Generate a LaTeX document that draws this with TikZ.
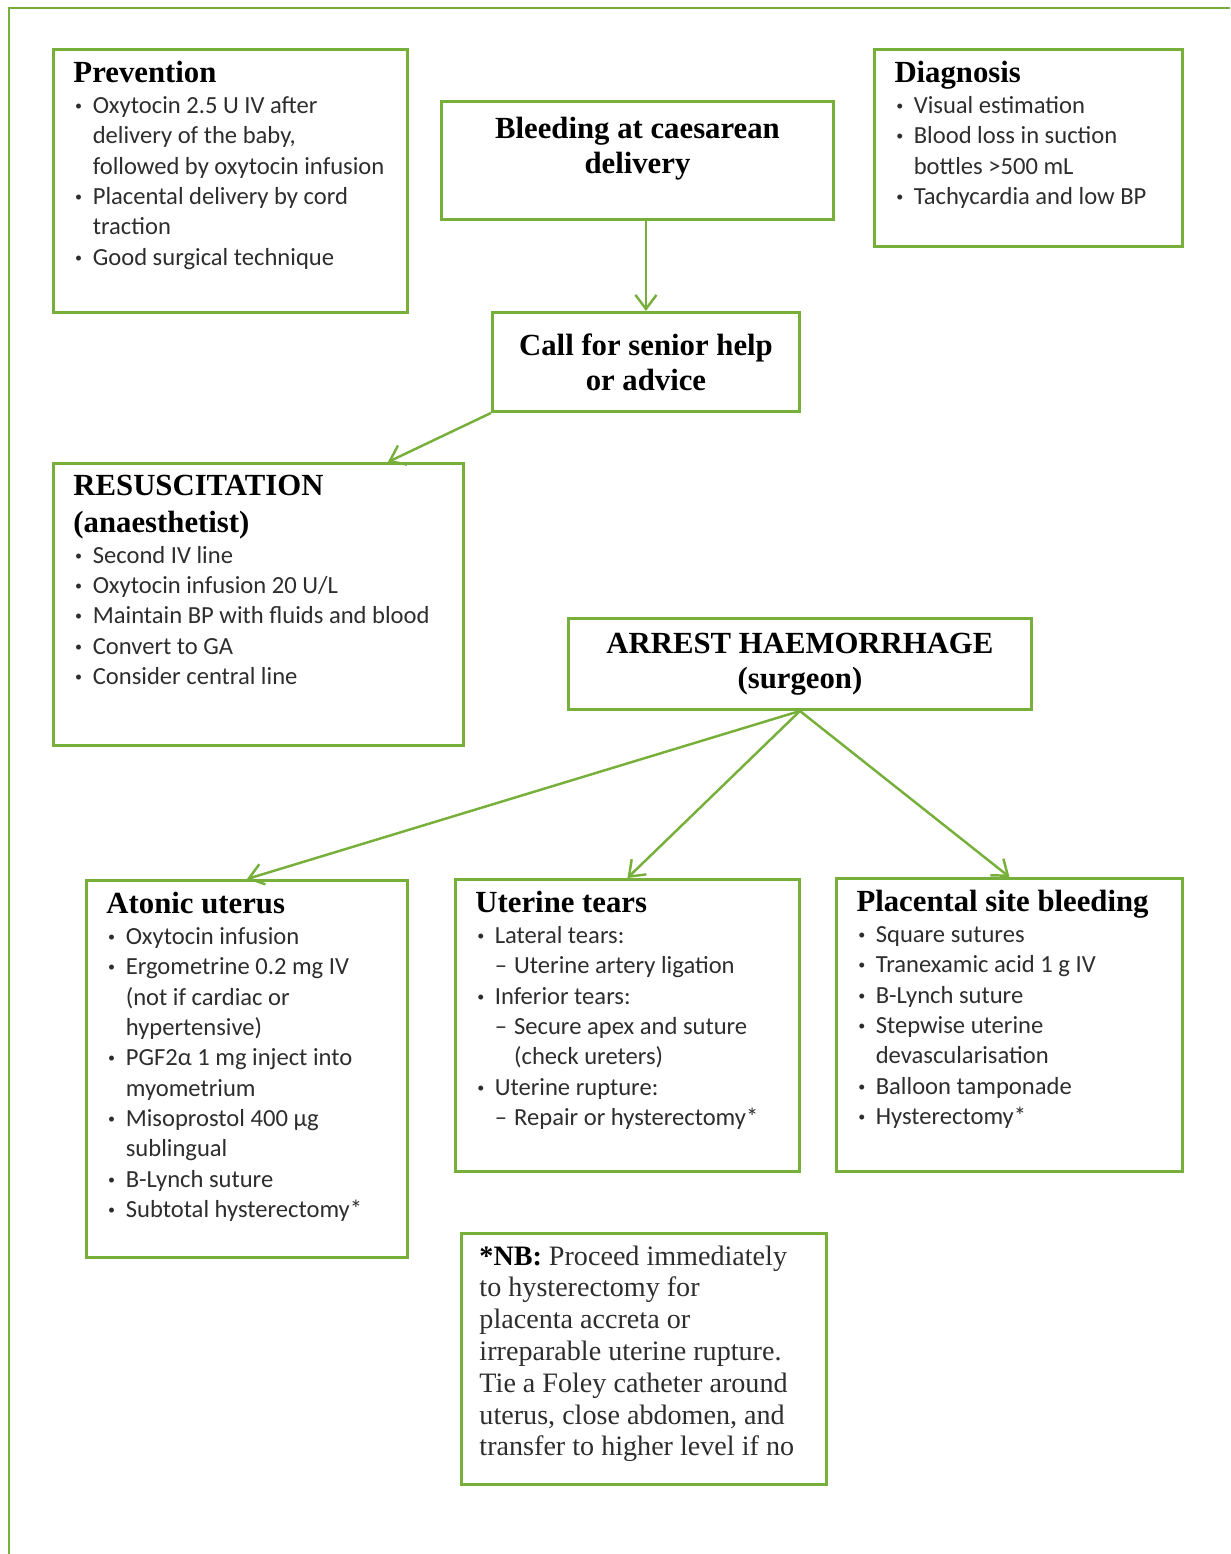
\documentclass[tikz,border=0pt]{standalone}
\usepackage{fontspec}
\setmainfont{Carlito}
\newfontfamily\headfont{Liberation Serif}
\usetikzlibrary{arrows.meta}

\definecolor{boxgreen}{RGB}{118,176,58}
\definecolor{bodygray}{RGB}{45,45,45}

\newcommand{\hd}[1]{{\color{black}\headfont\bfseries\fontsize{17.5}{21}\selectfont #1\par}}
\newcommand{\dotmark}{\makebox[11pt][l]{\hspace*{1pt}\raisebox{0.25ex}{\footnotesize\textbullet}}}
\newcommand{\itm}[1]{\par\noindent\hangindent=11pt\hangafter=1\dotmark#1}
\newcommand{\subitm}[1]{\par\noindent\hangindent=22pt\hangafter=1\hspace*{11pt}\makebox[11pt][l]{--}#1}
\newcommand{\listbox}[3]{\parbox[c][#2][t]{#1}{\raggedright\fontsize{14}{17.3}\selectfont\color{bodygray}#3}}

\tikzset{
  panel/.style={draw=boxgreen, line width=1.7pt, anchor=north west, inner xsep=0.4cm, inner ysep=0.24cm},
  headbox/.style={draw=boxgreen, line width=1.7pt, anchor=north west, align=center, inner sep=0pt,
    font=\headfont\bfseries\fontsize{17.5}{20}\selectfont},
  link/.style={draw=boxgreen, line width=1.4pt, -{Straight Barb[length=8pt,width=12pt]}}
}

\begin{document}
\begin{tikzpicture}[x=0.02cm, y=-0.02cm]
    \useasboundingbox (0,0) rectangle (1230,1554);
    \draw[boxgreen, line width=1.7pt] (9,1554) -- (9,8) -- (1230,8);

    \node[panel] (prev) at (52,48) {\listbox{6.28cm}{4.78cm}{%
        \hd{Prevention}
        \itm{Oxytocin 2.5 U IV after\newline delivery of the baby,\newline followed by oxytocin infusion}
        \itm{Placental delivery by cord\newline traction}
        \itm{Good surgical technique}}};
    \node[headbox, minimum width=7.84cm, minimum height=2.36cm, text depth=0.6cm] (bleed) at (440,100)
        {Bleeding at caesarean\\delivery};
    \node[panel] (diag) at (873,48) {\listbox{5.36cm}{3.46cm}{%
        \hd{Diagnosis}
        \itm{Visual estimation}
        \itm{Blood loss in suction\newline bottles >500 mL}
        \itm{Tachycardia and low BP}}};
    \node[headbox, minimum width=6.14cm, minimum height=1.98cm] (call) at (491,311)
        {Call for senior help\\or advice};
    \node[panel] (resus) at (52,462) {\listbox{7.40cm}{5.16cm}{%
        \hd{RESUSCITATION\newline(anaesthetist)}
        \itm{Second IV line}
        \itm{Oxytocin infusion 20 U/L}
        \itm{Maintain BP with fluids and blood}
        \itm{Convert to GA}
        \itm{Consider central line}}};
    \node[headbox, minimum width=9.26cm, minimum height=1.82cm] (arrest) at (567,617)
        {ARREST HAEMORRHAGE\\(surgeon)};

    \node[panel] (atonic) at (85,879) {\listbox{5.62cm}{7.06cm}{%
        \hd{Atonic uterus}
        \itm{Oxytocin infusion}
        \itm{Ergometrine 0.2 mg IV\newline(not if cardiac or\newline hypertensive)}
        \itm{PGF2α 1 mg inject into\newline myometrium}
        \itm{Misoprostol 400 µg\newline sublingual}
        \itm{B-Lynch suture}
        \itm{Subtotal hysterectomy*}}};
    \node[panel] (tears) at (454,878) {\listbox{6.08cm}{5.36cm}{%
        \hd{Uterine tears}
        \itm{Lateral tears:}
        \subitm{Uterine artery ligation}
        \itm{Inferior tears:}
        \subitm{Secure apex and suture\newline(check ureters)}
        \itm{Uterine rupture:}
        \subitm{Repair or hysterectomy*}}};
    \node[panel] (plac) at (835,877) {\listbox{6.12cm}{5.38cm}{%
        \hd{Placental site bleeding}
        \itm{Square sutures}
        \itm{Tranexamic acid 1 g IV}
        \itm{B-Lynch suture}
        \itm{Stepwise uterine\newline devascularisation}
        \itm{Balloon tamponade}
        \itm{Hysterectomy*}}};
    \node[panel, inner xsep=0.36cm] (nb) at (460,1232) {\parbox[c][4.54cm][t]{6.58cm}{\raggedright
        \headfont\fontsize{16}{18.1}\selectfont\color{bodygray}%
        {\color{black}\bfseries *NB:} Proceed immediately\newline to hysterectomy for\newline placenta accreta or\newline
        irreparable uterine rupture.\newline Tie a Foley catheter around\newline uterus, close abdomen, and\newline
        transfer to higher level if no}};

    \path (bleed.south -| call.north) edge[link] (call.north);
    \path (call.south west) edge[link] ([xshift=-1.54cm]resus.north east);
    \path (arrest.south) edge[link] (atonic.north);
    \path (arrest.south) edge[link] (tears.north);
    \path (arrest.south) edge[link] (plac.north);
\end{tikzpicture}
\end{document}
